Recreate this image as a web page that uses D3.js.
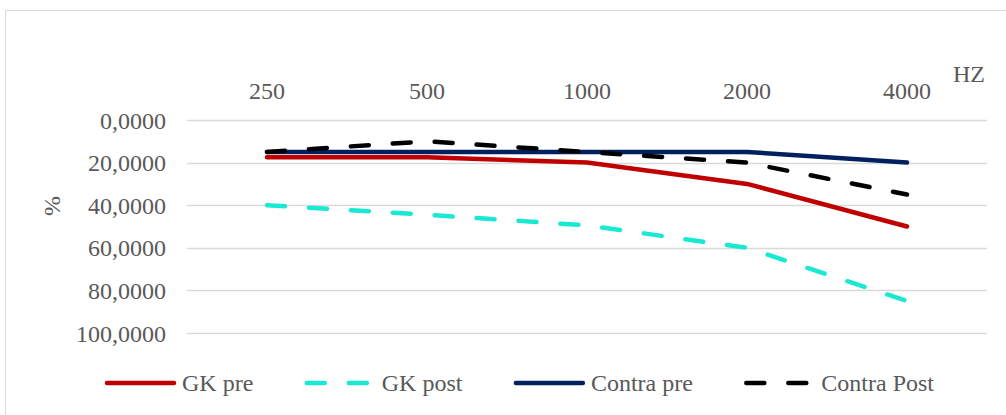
<!DOCTYPE html>
<html>
<head>
<meta charset="utf-8">
<script src="https://cdn.jsdelivr.net/npm/d3@7"></script>
<style>
  html, body { margin: 0; padding: 0; background: #fff; }
  svg { display: block; }
  text { font-family: "Liberation Serif", "Times New Roman", serif; fill: #595959; }
</style>
</head>
<body>
<svg id="chart" width="1006" height="415"></svg>
<script>
// ---- data ----
const categories = ["250", "500", "1000", "2000", "4000"];
const seriesNames = ["GK pre", "GK post", "Contra pre", "Contra Post"];
const gkPre = [17.5, 17.5, 20, 30, 50];
const gkPost = [40, 44.5, 49.5, 60, 85];
const contraPre = [15, 15, 15, 15, 20];
const contraPost = [15, 10, 15, 20, 35];
const yTicks = [0, 20, 40, 60, 80, 100];
const xAxisTitle = "HZ";
const yAxisTitle = "%";

const seriesValues = [gkPre, gkPost, contraPre, contraPost];
const colors = ["#C00000", "#19E8D3", "#002060", "#000000"];
const dashed = [false, true, false, true];

const svg = d3.select("#chart");
const W = 1006, H = 415;

// chart border
svg.append("rect")
  .attr("x", 5.5).attr("y", 10.5)
  .attr("width", W + 10).attr("height", H + 10)
  .attr("fill", "none").attr("stroke", "#d9d9d9").attr("stroke-width", 1);

const plotLeft = 187, plotRight = 987, plotTop = 120, plotBottom = 333;

const x = d3.scaleBand().domain(categories).range([plotLeft, plotRight]).paddingInner(0).paddingOuter(0);
const y = d3.scaleLinear().domain([0, 100]).range([plotTop, plotBottom]);

// gridlines
svg.append("g").selectAll("line").data(yTicks).join("line")
  .attr("x1", plotLeft).attr("x2", plotRight)
  .attr("y1", d => Math.round(y(d)) + 0.5).attr("y2", d => Math.round(y(d)) + 0.5)
  .attr("stroke", "#d9d9d9").attr("stroke-width", 1.5);

// y axis labels
const fmt = d => d3.format(".4f")(d).replace(".", ",");
const yAxis = d3.axisLeft(y).tickValues(yTicks).tickFormat(fmt).tickSize(0).tickPadding(0);
const gy = svg.append("g").attr("transform", `translate(166,0)`).call(yAxis);
gy.select(".domain").remove();
gy.selectAll("text")
  .attr("font-family", "Liberation Serif").attr("font-size", 24)
  .style("fill", "#595959").attr("dy", "0.34em");

// x axis labels (top)
const xAxis = d3.axisTop(x).tickSize(0).tickPadding(0);
const gx = svg.append("g").attr("transform", `translate(0,99)`).call(xAxis);
gx.select(".domain").remove();
gx.selectAll("text")
  .attr("font-family", "Liberation Serif").attr("font-size", 24)
  .style("fill", "#595959").attr("dy", 0);

// axis titles
svg.append("text").attr("x", 953).attr("y", 82)
  .attr("font-size", 24).text(xAxisTitle);
svg.append("text")
  .attr("transform", "translate(60,206) rotate(-90)")
  .attr("text-anchor", "middle")
  .attr("font-size", 24).text(yAxisTitle);

// lines
const line = d3.line()
  .x((d, i) => x(categories[i]) + x.bandwidth() / 2)
  .y(d => y(d));

seriesValues.forEach((vals, k) => {
  svg.append("path")
    .datum(vals)
    .attr("d", line)
    .attr("fill", "none")
    .attr("stroke", colors[k])
    .attr("stroke-width", 4.5)
    .attr("stroke-linecap", "round")
    .attr("stroke-linejoin", "round")
    .attr("stroke-dasharray", dashed[k] ? "18,24" : null);
});

// legend
const legend = svg.append("g");
const sampleW = 71, textGap = 6, legendY = 383, legendStart = 105, legendEnd = 934;
const groups = [], widths = [];
seriesNames.forEach((name, k) => {
  const g = legend.append("g");
  g.append("line").attr("x1", 2).attr("x2", sampleW - 2)
    .attr("y1", legendY).attr("y2", legendY)
    .attr("stroke", colors[k]).attr("stroke-width", 4.5)
    .attr("stroke-linecap", "round")
    .attr("stroke-dasharray", dashed[k] ? "18,24" : null);
  const t = g.append("text").attr("x", sampleW + textGap).attr("y", legendY + 8)
    .attr("font-size", 24).text(name);
  groups.push(g);
  widths.push(sampleW + textGap + t.node().getComputedTextLength());
});
const gap = (legendEnd - legendStart - d3.sum(widths)) / (widths.length - 1);
let cx = legendStart;
groups.forEach((g, k) => {
  g.attr("transform", `translate(${cx},0)`);
  cx += widths[k] + gap;
});
</script>
</body>
</html>
